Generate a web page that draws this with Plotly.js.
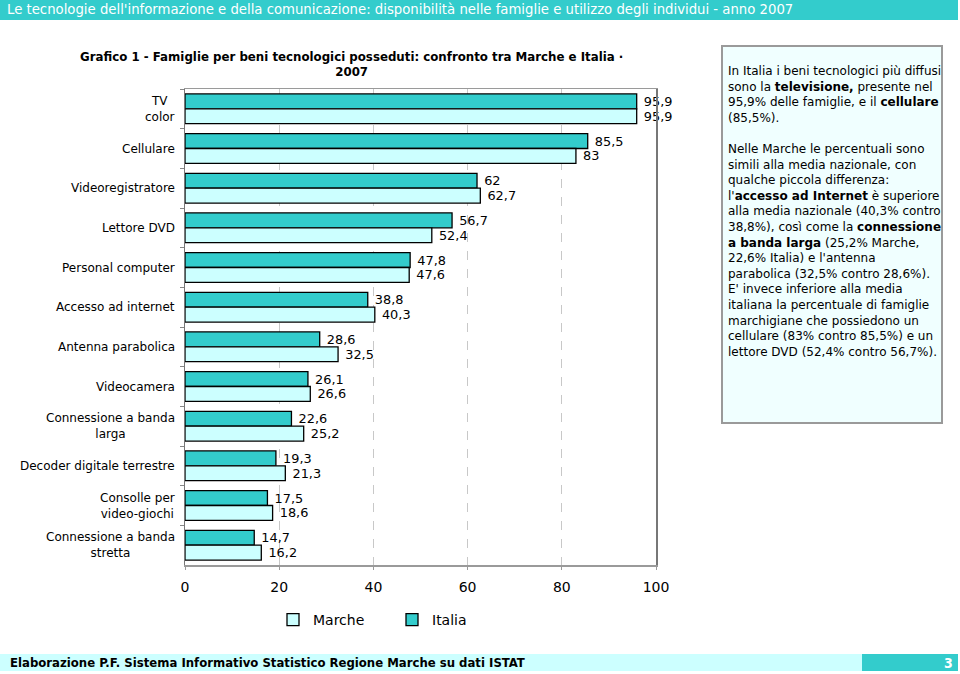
<!DOCTYPE html>
<html>
<head>
<meta charset="utf-8">
<script src="https://cdn.plot.ly/plotly-3.0.1.min.js"></script>
<style>
html,body{margin:0;padding:0;background:#fff;}
#chart{width:960px;height:674px;}
</style>
</head>
<body>
<div id="chart"></div>
<script>
// ---- data ----
const categories = [
  "TV<br>color",
  "Cellulare",
  "Videoregistratore",
  "Lettore DVD",
  "Personal computer",
  "Accesso ad internet",
  "Antenna parabolica",
  "Videocamera",
  "Connessione a banda<br>larga",
  "Decoder digitale terrestre",
  "Consolle per<br>video-giochi",
  "Connessione a banda<br>stretta"
];
const italia = [95.9, 85.5, 62, 56.7, 47.8, 38.8, 28.6, 26.1, 22.6, 19.3, 17.5, 14.7];
const marche = [95.9, 83, 62.7, 52.4, 47.6, 40.3, 32.5, 26.6, 25.2, 21.3, 18.6, 16.2];
const xTicks = [0, 20, 40, 60, 80, 100];

const headerText = "Le tecnologie dell'informazione e della comunicazione: disponibilità nelle famiglie e utilizzo degli individui - anno 2007";
const chartTitle = "Grafico 1 - Famiglie per beni tecnologici posseduti: confronto tra Marche e Italia ·<br>2007";
const footerText = "Elaborazione P.F. Sistema Informativo Statistico Regione Marche su dati ISTAT";
const pageNumber = "3";
const sideText = [
  "In Italia i beni tecnologici più diffusi",
  "sono la <b>televisione,</b> presente nel",
  "95,9% delle famiglie, e il <b>cellulare</b>",
  "(85,5%).",
  "",
  "Nelle Marche le percentuali sono",
  "simili alla media nazionale, con",
  "qualche piccola differenza:",
  "l'<b>accesso ad Internet</b> è superiore",
  "alla media nazionale (40,3% contro",
  "38,8%), così come la <b>connessione</b>",
  "<b>a banda larga</b> (25,2% Marche,",
  "22,6% Italia) e l'antenna",
  "parabolica (32,5% contro 28,6%).",
  "E' invece inferiore alla media",
  "italiana la percentuale di famiglie",
  "marchigiane che possiedono un",
  "cellulare (83% contro 85,5%) e un",
  "lettore DVD (52,4% contro 56,7%)."
];

// ---- geometry helpers (pixel -> paper) ----
const L = 185, R = 656, T = 89, B = 565;
const px = x => (x - L) / (R - L);
const py = y => (B - y) / (B - T);
const fmt = v => String(v).replace('.', ',');

const FONT = "DejaVu Sans, Verdana, sans-serif";
const TEAL = "#33CCCC", CYAN = "#CCFFFF";

const traces = [
  {
    type: 'bar', orientation: 'h', name: 'Italia',
    y: categories, x: italia,
    text: italia.map(v => ' ' + fmt(v)), textposition: 'outside', cliponaxis: false,
    textfont: {family: FONT, size: 13, color: '#000'},
    marker: {color: TEAL, line: {color: '#000', width: 1.3}},
    hoverinfo: 'x+name'
  },
  {
    type: 'bar', orientation: 'h', name: 'Marche',
    y: categories, x: marche,
    text: marche.map(v => ' ' + fmt(v)), textposition: 'outside', cliponaxis: false,
    textfont: {family: FONT, size: 13, color: '#000'},
    marker: {color: CYAN, line: {color: '#000', width: 1.3}},
    hoverinfo: 'x+name'
  }
];

const shapes = [
  {type:'rect', xref:'paper', yref:'paper', x0:px(0), x1:px(958), y0:py(0), y1:py(20), fillcolor:TEAL, line:{width:0}, layer:'below'},
  {type:'rect', xref:'paper', yref:'paper', x0:px(0), x1:px(862), y0:py(654), y1:py(671), fillcolor:CYAN, line:{width:0}, layer:'below'},
  {type:'rect', xref:'paper', yref:'paper', x0:px(862), x1:px(958), y0:py(654), y1:py(671), fillcolor:TEAL, line:{width:0}, layer:'below'},
  {type:'rect', xref:'paper', yref:'paper', x0:px(722), x1:px(942), y0:py(46), y1:py(423), fillcolor:'#F0FFFF', line:{color:'#9a9a9a', width:2}, layer:'below'}
];

const annotations = [
  {xref:'paper', yref:'paper', x:px(5), y:py(10), xanchor:'left', yanchor:'middle', showarrow:false,
   text:headerText, font:{family:"DejaVu Sans, sans-serif", size:13.25, color:'#fff'}},
  {xref:'paper', yref:'paper', x:px(8), y:py(662.5), xanchor:'left', yanchor:'middle', showarrow:false,
   text:'<b>'+footerText+'</b>', font:{family:"DejaVu Sans Condensed, sans-serif", size:13, color:'#000'}},
  {xref:'paper', yref:'paper', x:px(955), y:py(662.5), xanchor:'right', yanchor:'middle', showarrow:false,
   text:'<b>'+pageNumber+'</b>', font:{family:"DejaVu Sans Condensed, sans-serif", size:14, color:'#fff'}},
  {xref:'paper', yref:'paper', x:px(351), y:py(65), xanchor:'center', yanchor:'middle', showarrow:false,
   text:'<b>'+chartTitle+'</b>', align:'center', font:{family:FONT, size:11.8, color:'#000'}},
  {xref:'paper', yref:'paper', x:px(726), y:py(62), xanchor:'left', yanchor:'top', showarrow:false,
   text:sideText.join('<br>'), align:'left', font:{family:FONT, size:12, color:'#000'}}
];
categories.forEach(c => {
  annotations.push({xref:'paper', yref:'y', x:px(177), y:c, xanchor:'right', yanchor:'middle',
    showarrow:false, align:'center', text:c, font:{family:FONT, size:12, color:'#000'}});
});

const layout = {
  width: 960, height: 674,
  margin: {l: L, r: 960 - R, t: T, b: 674 - B, pad: 0},
  paper_bgcolor: '#fff', plot_bgcolor: '#fff',
  barmode: 'group', bargap: 0.25, bargroupgap: 0,
  showlegend: true,
  legend: {orientation: 'h', x: px(273), xanchor: 'left', y: py(620), yanchor: 'middle',
           traceorder: 'reversed', font: {family: FONT, size: 14, color: '#000'}, entrywidth: 74},
  xaxis: {range: [0, 100], tickvals: xTicks, ticktext: xTicks.map(String), fixedrange: true,
          showgrid: true, gridcolor: '#c8c8c8', griddash: 'dash', gridwidth: 1,
          showline: true, linecolor: '#9a9a9a', linewidth: 1.5, mirror: true,
          ticks: 'outside', ticklen: 3, tickcolor: '#9a9a9a', ticklabelstandoff: 6,
          tickfont: {family: FONT, size: 14, color: '#000'}, zeroline: false},
  yaxis: {type: 'category', categoryorder: 'array', categoryarray: categories, autorange: 'reversed',
          showticklabels: false, ticks: 'outside', tickson: 'boundaries', ticklen: 4, tickcolor: '#888',
          showline: true, linecolor: '#777', linewidth: 1.5, mirror: true, showgrid: false, fixedrange: true},
  shapes: shapes,
  annotations: annotations,
  font: {family: FONT}
};

Plotly.newPlot('chart', traces, layout, {displayModeBar: false, staticPlot: true});
</script>
</body>
</html>
